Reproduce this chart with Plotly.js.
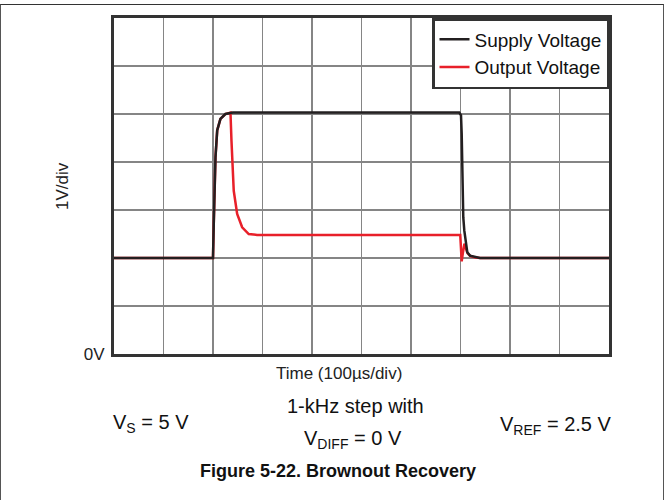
<!DOCTYPE html>
<html>
<head>
<meta charset="utf-8">
<script src="https://cdn.plot.ly/plotly-3.0.1.min.js"></script>
<style>
  html, body { margin: 0; padding: 0; background: #fff; }
  #wrap { position: relative; width: 664px; height: 500px; overflow: hidden; }
  #chart { position: absolute; left: 0; top: 0; width: 664px; height: 500px; }
  #frame { position: absolute; left: 0; top: 4px; width: 662px; height: 500px;
           border-top: 1.5px solid #333; border-left: 1.5px solid #555; border-right: 1.5px solid #555;
           pointer-events: none; }
</style>
</head>
<body>
<div id="wrap"><div id="chart"></div><div id="frame"></div></div>
<script>
// Time in microseconds (100 µs/div), voltage in volts (1 V/div)
const supplyTime = [0, 200, 201.5, 203, 205, 208.5, 215, 225, 240, 697.6, 701, 702.4, 704.4, 705.6, 707.7, 710.5, 713.7, 719.2, 729.2, 739.3, 1000];
const supplyVolt = [2.0, 2.0, 2.7, 3.4, 4.1, 4.66, 4.9, 5.0, 5.03, 5.03, 4.97, 4.59, 3.4, 2.85, 2.57, 2.3, 2.12, 2.05, 2.02, 2.0, 2.0];

const outputTime = [0, 200, 201.5, 203, 205, 208.5, 215, 225, 235.3, 237.3, 238.6, 241.9, 248.8, 258.9, 272.2, 289, 699.5, 700.6, 702.4, 705, 708, 711, 714, 720, 730, 740, 1000];
const outputVolt = [2.0, 2.0, 2.7, 3.4, 4.1, 4.66, 4.9, 5.0, 5.03, 4.45, 4.1, 3.4, 2.92, 2.64, 2.5, 2.48, 2.48, 2.2, 1.93, 2.12, 2.3, 2.2, 2.1, 2.04, 2.01, 2.0, 2.0];

const seriesNames = ['Supply Voltage', 'Output Voltage'];
const yTickVals = [0];
const yTickText = ['0V'];

const FONT = 'Liberation Sans, Arial, Helvetica, sans-serif';
const ML = 114, MR = 55, MT = 18, MB = 146;
const PW = 664 - ML - MR, PH = 500 - MT - MB;
const px = x => (x - ML) / PW;      // page x -> paper x
const py = y => (500 - MB - y) / PH; // page y -> paper y
const GRID = { color: '#858585', width: 1.5 };

const traces = [
  { x: outputTime, y: outputVolt, name: seriesNames[1], type: 'scatter', mode: 'lines',
    line: { color: '#e8202a', width: 2.5 } },
  { x: supplyTime, y: supplyVolt, name: seriesNames[0], type: 'scatter', mode: 'lines',
    line: { color: '#231f20', width: 2.5 } }
];

const layout = {
  width: 664, height: 500,
  margin: { l: ML, r: MR, t: MT, b: MB },
  paper_bgcolor: '#fff', plot_bgcolor: '#fff',
  font: { family: FONT, color: '#222' },
  showlegend: true,
  legend: { x: 1, xanchor: 'right', y: 1, yanchor: 'top', traceorder: 'reversed',
            bgcolor: '#fff', bordercolor: '#333', borderwidth: 2.5,
            font: { family: FONT, size: 19, color: '#111' }, itemwidth: 30 },
  title: { text: '<b>Figure 5-22. Brownout Recovery</b>', xref: 'container', yref: 'container',
           x: 338 / 664, xanchor: 'center', y: 1 - 471 / 500, yanchor: 'middle',
           font: { family: FONT, size: 18, color: '#111' } },
  xaxis: { range: [0, 1000], dtick: 100, tick0: 0, showticklabels: false, ticks: '',
           showgrid: true, gridcolor: GRID.color, gridwidth: GRID.width, zeroline: false,
           showline: true, mirror: true, linecolor: '#333', linewidth: 3, fixedrange: true },
  yaxis: { range: [0, 7], tickmode: 'array', tickvals: yTickVals, ticktext: yTickText, ticks: '',
           ticklabelstandoff: 3, tickfont: { family: FONT, size: 17, color: '#222' },
           showgrid: true, gridcolor: GRID.color, gridwidth: GRID.width, zeroline: false,
           minor: { dtick: 1, tick0: 0, showgrid: true, gridcolor: GRID.color, gridwidth: GRID.width, ticks: '' },
           showline: true, mirror: true, linecolor: '#333', linewidth: 3, fixedrange: true },
  annotations: [
    { text: '1V/div', xref: 'paper', yref: 'paper', x: px(62), y: 0.5, textangle: -90,
      showarrow: false, xanchor: 'center', yanchor: 'middle', font: { family: FONT, size: 17, color: '#222' } },
    { text: 'Time (100µs/div)', xref: 'paper', yref: 'paper', x: px(339), y: py(373),
      showarrow: false, xanchor: 'center', yanchor: 'middle', font: { family: FONT, size: 17, color: '#222' } },
    { text: 'V<sub>S</sub> = 5 V', xref: 'paper', yref: 'paper', x: px(151), y: py(423),
      showarrow: false, xanchor: 'center', yanchor: 'middle', font: { family: FONT, size: 20, color: '#111' } },
    { text: '1-kHz step with', xref: 'paper', yref: 'paper', x: px(355), y: py(406),
      showarrow: false, xanchor: 'center', yanchor: 'middle', font: { family: FONT, size: 20, color: '#111' } },
    { text: 'V<sub>DIFF</sub> = 0 V', xref: 'paper', yref: 'paper', x: px(353), y: py(439),
      showarrow: false, xanchor: 'center', yanchor: 'middle', font: { family: FONT, size: 20, color: '#111' } },
    { text: 'V<sub>REF</sub> = 2.5 V', xref: 'paper', yref: 'paper', x: px(555.5), y: py(425),
      showarrow: false, xanchor: 'center', yanchor: 'middle', font: { family: FONT, size: 20, color: '#111' } }
  ]
};

Plotly.newPlot('chart', traces, layout, { staticPlot: true, displayModeBar: false });
</script>
</body>
</html>
